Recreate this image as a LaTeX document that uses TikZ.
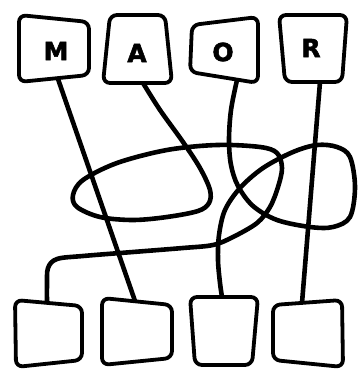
\documentclass[tikz,border=0pt]{standalone}
\usepackage{fontspec}
\setmainfont{DejaVu Sans}
\newfontfamily\heavyfont[FakeBold=2]{DejaVu Sans}
\begin{document}
\begin{tikzpicture}[x=1pt,y=-1pt,
  boxshape/.style={draw=black,fill=white,line width=3.8pt,rounded corners=7pt,line join=round},
  wire/.style={draw=black,line width=4.6pt,line cap=round,line join=round},
  letter/.style={font=\heavyfont\fontsize{25}{25}\selectfont\bfseries,inner sep=0pt}]
\useasboundingbox (0,0) rectangle (360,371);
% attachment points
\coordinate (mb) at (58,79);
\coordinate (ab) at (143,83);
\coordinate (ob) at (237,80);
\coordinate (rb) at (320,82);
\coordinate (t1) at (47,303);
\coordinate (t2) at (135,301);
\coordinate (t3) at (222,297);
\coordinate (t4) at (302,303);
% connectors
\draw[wire] (mb) -- (t2);
\draw[wire] (rb) -- (t4);
\draw[wire] plot[smooth,tension=0.55] coordinates {(ab) (160,110) (183,142) (200,168) (210,190) (209,203) (198,211) (167,217) (133,220) (100,217) (77,207) (73,195) (83,180) (117,163) (167,150) (217,145) (260,147) (277,153) (282,168) (278,187) (270,207) (257,223) (233,237) (213,245) (183,248) (133,252) (83,256) (57,259) (48,268) (47,285) (t1)};
\draw[wire] plot[smooth,tension=0.55] coordinates {(ob) (231,110) (229,140) (231,165) (238,186) (253,206) (277,220) (310,227) (333,227) (350,217) (355,187) (350,157) (337,147) (317,145) (293,152) (263,168) (240,188) (225,210) (219,235) (218,260) (220,283) (t3)};
% top boxes
\draw[boxshape] (19,15) -- (89,22) -- (89,75) -- (19,82) -- cycle;
\draw[boxshape] (110,15) -- (165,15) -- (172,83) -- (103,83) -- cycle;
\draw[boxshape] (192,25) -- (258,17) -- (258,83) -- (190,72) -- cycle;
\draw[boxshape] (279,15) -- (347,15) -- (342,82) -- (285,82) -- cycle;
\node[letter] (m) at (56,51) {M};
\node[letter] (a) at (137,53) {A};
\node[letter] (o) at (223,52) {O};
\node[letter] (r) at (311,48) {R};
% bottom boxes
\draw[boxshape] (15,300) -- (82,306) -- (82,360) -- (16,367) -- cycle;
\draw[boxshape] (102,298) -- (172,305) -- (172,358) -- (102,365) -- cycle;
\draw[boxshape] (190,297) -- (258,297) -- (252,365) -- (195,365) -- cycle;
\draw[boxshape] (273,305) -- (342,300) -- (343,367) -- (273,360) -- cycle;
\end{tikzpicture}
\end{document}
